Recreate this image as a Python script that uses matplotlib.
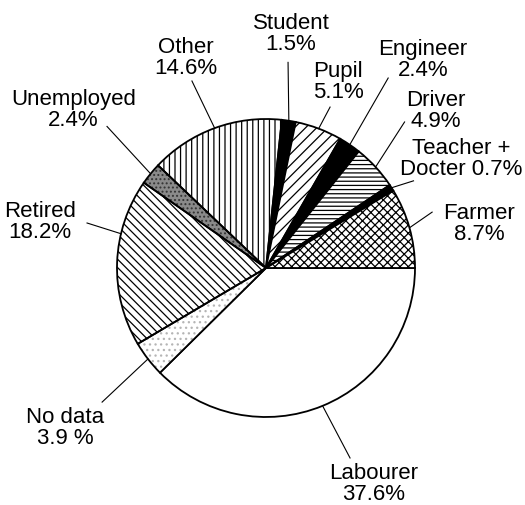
import numpy as np
import matplotlib.pyplot as plt
from matplotlib.patches import Wedge

plt.rcParams['font.family'] = ['Liberation Sans', 'DejaVu Sans']
plt.rcParams['hatch.linewidth'] = 0.9

# data, clockwise from 3 o'clock
labels = ["Labourer", "No data", "Retired", "Unemployed", "Other", "Student",
          "Pupil", "Engineer", "Driver", "Teacher +\nDocter", "Farmer"]
values = [37.6, 3.9, 18.2, 2.4, 14.6, 1.5, 5.1, 2.4, 4.9, 0.7, 8.7]
pct_text = ["37.6%", "3.9 %", "18.2%", "2.4%", "14.6%", "1.5%",
            "5.1%", "2.4%", "4.9%", "0.7%", "8.7%"]

# styles
faces = ["white", "white", "white", "#8a8a8a", "white", "black",
         "white", "black", "white", "black", "white"]
hatches = [None, "...", "\\\\\\\\", "....", "|||", None,
           "///", None, "----", None, "xxxx"]
hatch_cols = ["black", "#b5b5b5", "black", "#333333", "black", "black",
              "black", "black", "black", "black", "black"]

# label centre positions (data units, radius = 1) and leader start points
lab_pos = [(0.72, -1.445), (-1.346, -1.067), (-1.517, 0.315), (-1.292, 1.064),
           (-0.54, 1.419), (0.168, 1.58), (0.483, 1.252), (1.054, 1.406),
           (1.141, 1.06), (1.309, 0.738), (1.43, 0.305)]
lead_start = [(0.564, -1.275), (-1.10, -0.90), (-1.201, 0.302), (-1.067, 0.95),
              (-0.497, 1.255), (0.148, 1.38), (0.43, 1.08), (0.82, 1.275),
              (0.93, 0.98), (0.99, 0.585), (1.115, 0.375)]
lead_angle = {2: 166.7}

fig = plt.figure(figsize=(5.25, 5.06), dpi=100)
ax = fig.add_axes([0, 0, 1, 1])
cx, cy, r = 266, 269, 149

wedges, _ = ax.pie(values, startangle=0, counterclock=False, radius=1.0,
                   wedgeprops=dict(linewidth=1.3, edgecolor='black'))

for i, w in enumerate(wedges):
    w.set_facecolor(faces[i])
    if hatches[i]:
        w.set_hatch(hatches[i])
        w.set_edgecolor(hatch_cols[i])
        w.set_linewidth(0)
        # outline on top
        outline = Wedge((0, 0), 1.0, w.theta1, w.theta2, facecolor='none',
                        edgecolor='black', linewidth=1.3, zorder=w.zorder + 0.1)
        ax.add_patch(outline)

for i, w in enumerate(wedges):
    ang = lead_angle.get(i, (w.theta1 + w.theta2) / 2)
    ex, ey = np.cos(np.radians(ang)), np.sin(np.radians(ang))
    sx, sy = lead_start[i]
    ax.plot([sx, ex], [sy, ey], color='black', lw=0.8, zorder=5)
    if "\n" in labels[i]:
        first, second = labels[i].split("\n")
        txt = first + "\n" + second + " " + pct_text[i]
    else:
        txt = labels[i] + "\n" + pct_text[i]
    ax.text(lab_pos[i][0], lab_pos[i][1], txt, ha='center', va='center',
            fontsize=16, linespacing=1.0)

ax.set_xlim(-cx / r, (525 - cx) / r)
ax.set_ylim(-(506 - cy) / r, cy / r)
ax.set_aspect('equal')
ax.axis('off')

fig.savefig("out.png", dpi=100)
